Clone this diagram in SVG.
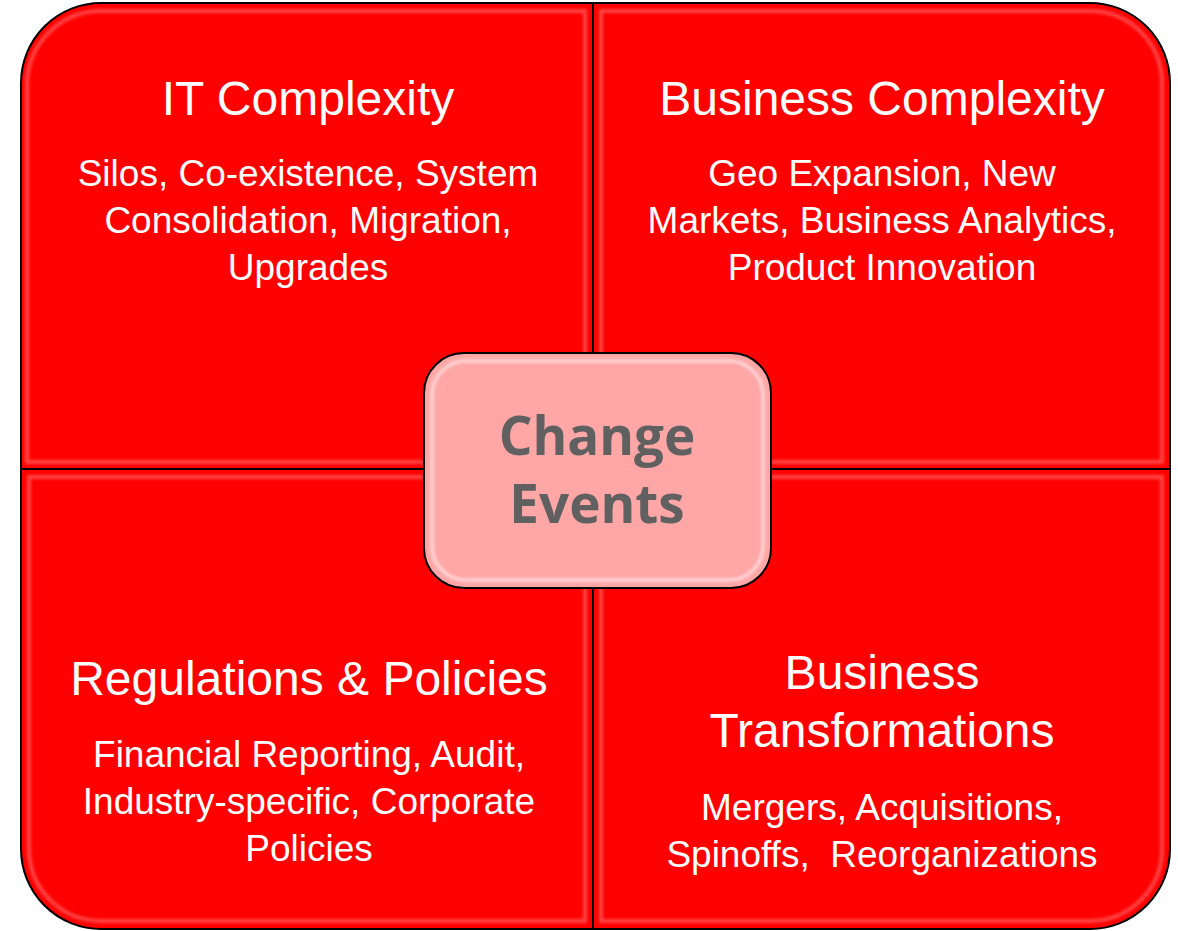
<svg xmlns="http://www.w3.org/2000/svg" width="1178" height="931" viewBox="0 0 1178 931">
<defs>
<filter id="soft" x="-5%" y="-5%" width="110%" height="110%"><feGaussianBlur stdDeviation="1.5"/></filter>
</defs>
<style>
.q{fill:#ff0000;stroke:#000;stroke-width:2}
.bev{fill:none;stroke:#ff9a9a;stroke-width:4}
.t{font-family:"Liberation Sans",Arial,sans-serif;fill:#fff;text-anchor:middle;white-space:pre}
.h{font-size:48px}
.b{font-size:37px}
.c{font-family:"Open Sans","Liberation Sans",sans-serif;font-weight:bold;font-size:53px;fill:#606060;text-anchor:middle}
</style>
<rect width="1178" height="931" fill="#fff"/>
<g id="it-complexity">
<path class="q" d="M21,469 L21,83 A80,80 0 0 1 101,3 L593,3 L593,469 Z"/>
<path class="bev" filter="url(#soft)" d="M27,462 L27,85 A74,74 0 0 1 101,11 L585,11 L585,462 Z" opacity="0.45"/>
<text class="t h" x="308" y="115">IT Complexity</text>
<text class="t b" x="308" y="186">Silos, Co-existence, System</text>
<text class="t b" x="308" y="233">Consolidation, Migration,</text>
<text class="t b" x="308" y="280">Upgrades</text>
</g>
<g id="business-complexity">
<path class="q" d="M593,3 L1090,3 A80,80 0 0 1 1170,83 L1170,469 L593,469 Z"/>
<path class="bev" filter="url(#soft)" d="M601,11 L1090,11 A72,72 0 0 1 1162,83 L1162,462 L601,462 Z" opacity="0.45"/>
<text class="t h" x="882" y="115">Business Complexity</text>
<text class="t b" x="882" y="186">Geo Expansion, New</text>
<text class="t b" x="882" y="233">Markets, Business Analytics,</text>
<text class="t b" x="882" y="280">Product Innovation</text>
</g>
<g id="regulations-policies">
<path class="q" d="M21,469 L593,469 L593,929 L101,929 A80,80 0 0 1 21,849 Z"/>
<path class="bev" filter="url(#soft)" d="M29,477 L585,477 L585,921 L101,921 A72,72 0 0 1 29,849 Z" opacity="0.45"/>
<text class="t h" x="309" y="695">Regulations &amp; Policies</text>
<text class="t b" x="309" y="767">Financial Reporting, Audit,</text>
<text class="t b" x="309" y="814">Industry-specific, Corporate</text>
<text class="t b" x="309" y="861">Policies</text>
</g>
<g id="business-transformations">
<path class="q" d="M593,469 L1170,469 L1170,849 A80,80 0 0 1 1090,929 L593,929 Z"/>
<path class="bev" filter="url(#soft)" d="M601,477 L1162,477 L1162,849 A72,72 0 0 1 1090,921 L601,921 Z" opacity="0.45"/>
<text class="t h" x="882" y="689">Business</text>
<text class="t h" x="882" y="747">Transformations</text>
<text class="t b" x="882" y="820">Mergers, Acquisitions,</text>
<text class="t b" x="882" y="867" xml:space="preserve">Spinoffs,  Reorganizations</text>
</g>
<g id="change-events">
<rect x="424" y="353" width="347" height="235" rx="40" ry="40" fill="#ffa7a7" stroke="#000" stroke-width="2"/>
<rect x="432" y="361" width="331" height="219" rx="34" ry="34" fill="none" stroke="#fff" stroke-width="3" opacity="0.6" filter="url(#soft)"/>
<text class="c" x="597" y="455">Change</text>
<text class="c" x="597" y="523">Events</text>
</g>
<g id="connectors"/>
</svg>
